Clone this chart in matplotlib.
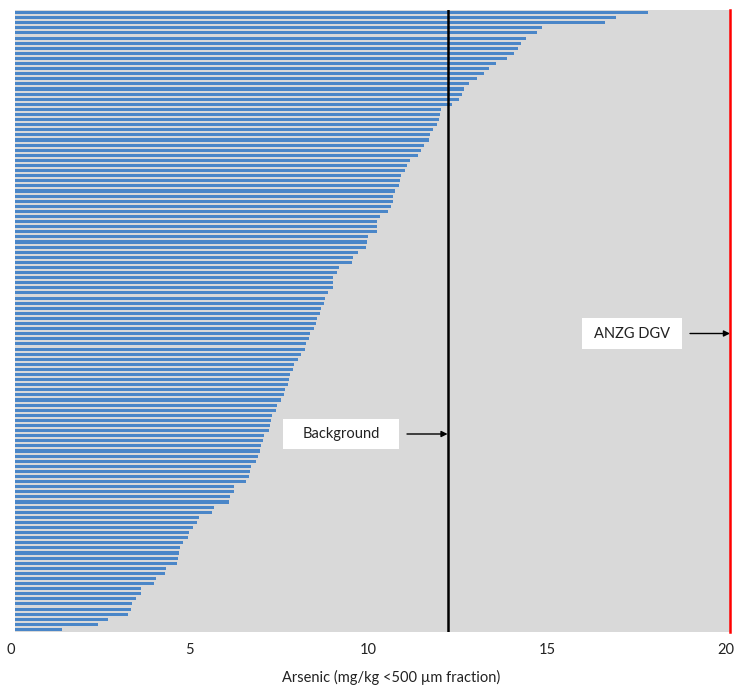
import matplotlib
matplotlib.use("Agg")
import matplotlib.pyplot as plt
import matplotlib.transforms as mtransforms
from matplotlib.patches import Rectangle

# arsenic concentrations, sorted high to low (top bar first)
arsenic = [
    17.70, 16.80, 16.51, 14.75, 14.59, 14.29, 14.14, 14.06, 13.96, 13.76,
    13.45, 13.26, 13.13, 12.91, 12.69, 12.55, 12.51, 12.42, 12.21, 11.92,
    11.90, 11.85, 11.81, 11.69, 11.61, 11.59, 11.45, 11.37, 11.27, 11.04,
    10.97, 10.90, 10.79, 10.78, 10.73, 10.62, 10.58, 10.56, 10.51, 10.42,
    10.22, 10.13, 10.12, 10.12, 9.87, 9.86, 9.81, 9.60, 9.45, 9.44,
    9.05, 9.01, 8.90, 8.89, 8.89, 8.76, 8.67, 8.65, 8.55, 8.53,
    8.45, 8.42, 8.37, 8.25, 8.23, 8.14, 8.12, 7.99, 7.92, 7.80,
    7.78, 7.70, 7.67, 7.65, 7.55, 7.53, 7.44, 7.32, 7.30, 7.20,
    7.16, 7.12, 7.11, 6.96, 6.95, 6.87, 6.85, 6.79, 6.73, 6.60,
    6.57, 6.54, 6.46, 6.13, 6.12, 6.01, 5.99, 5.58, 5.51, 5.16,
    5.08, 4.98, 4.86, 4.84, 4.71, 4.62, 4.59, 4.57, 4.54, 4.23,
    4.19, 3.95, 3.88, 3.52, 3.52, 3.38, 3.28, 3.24, 3.17, 2.61,
    2.33, 1.31,
]
background = 12.1
anzg_dgv = 20.0
xticks = [0, 5, 10, 15, 20]

plt.rcParams['font.family'] = ['Lato', 'DejaVu Sans']

W, H = 737, 687
fig = plt.figure(figsize=(W / 100, H / 100), dpi=100)
ax = fig.add_axes([15 / W, 1 - 632 / H, 715 / W, 622 / H])
ax.set_facecolor('#d9d9d9')

ypos = list(range(len(arsenic)))
ax.barh(ypos, arsenic, height=0.6, color='#4a86c8')
ax.set_ylim(len(arsenic) - 0.5, -0.5)
ax.set_xlim(0, 20)

ax.axvline(background, color='black', lw=1.8)
ax.axvline(anzg_dgv, color='#ff0000', lw=1.8, clip_on=False)

for s in ax.spines.values():
    s.set_visible(False)
ax.set_yticks([])
ax.set_xticks(xticks)
ax.set_xticklabels([str(t) for t in xticks], fontsize=10.5, color='#222222')
ax.tick_params(axis='x', length=0, pad=8)
shift = mtransforms.ScaledTranslation(-4 / 100, 0, fig.dpi_scale_trans)
for lbl in ax.get_xticklabels():
    lbl.set_transform(lbl.get_transform() + shift)
fig.text(391 / W, 1 - 677 / H, 'Arsenic (mg/kg <500 µm fraction)',
         ha='center', va='center', fontsize=10.5, color='#222222')

# label boxes with arrows pointing at the guide lines
def label(text, x0, x1, y0, y1, arrow_from, target):
    ax_w, ax_h = 715, 622
    ax.add_patch(Rectangle(((x0 - 15) / ax_w, (632 - y1) / ax_h),
                           (x1 - x0) / ax_w, (y1 - y0) / ax_h,
                           transform=ax.transAxes, facecolor='white',
                           edgecolor='none', zorder=4))
    yc = (632 - (y0 + y1) / 2) / ax_h
    ax.text(((x0 + x1) / 2 - 15) / ax_w, yc, text, transform=ax.transAxes,
            ha='center', va='center', fontsize=10.5, color='#222222', zorder=5)
    ax.annotate('', xy=(target, yc), xycoords=('data', 'axes fraction'),
                xytext=((arrow_from - 15) / ax_w, yc), textcoords='axes fraction',
                arrowprops=dict(arrowstyle='-|>', color='black', lw=1,
                                mutation_scale=9, shrinkA=0, shrinkB=0))

label('Background', 283, 399, 419, 449, 407, background)
label('ANZG DGV', 582, 682, 318, 349, 690, anzg_dgv)

fig.savefig('out.png', dpi=100)
